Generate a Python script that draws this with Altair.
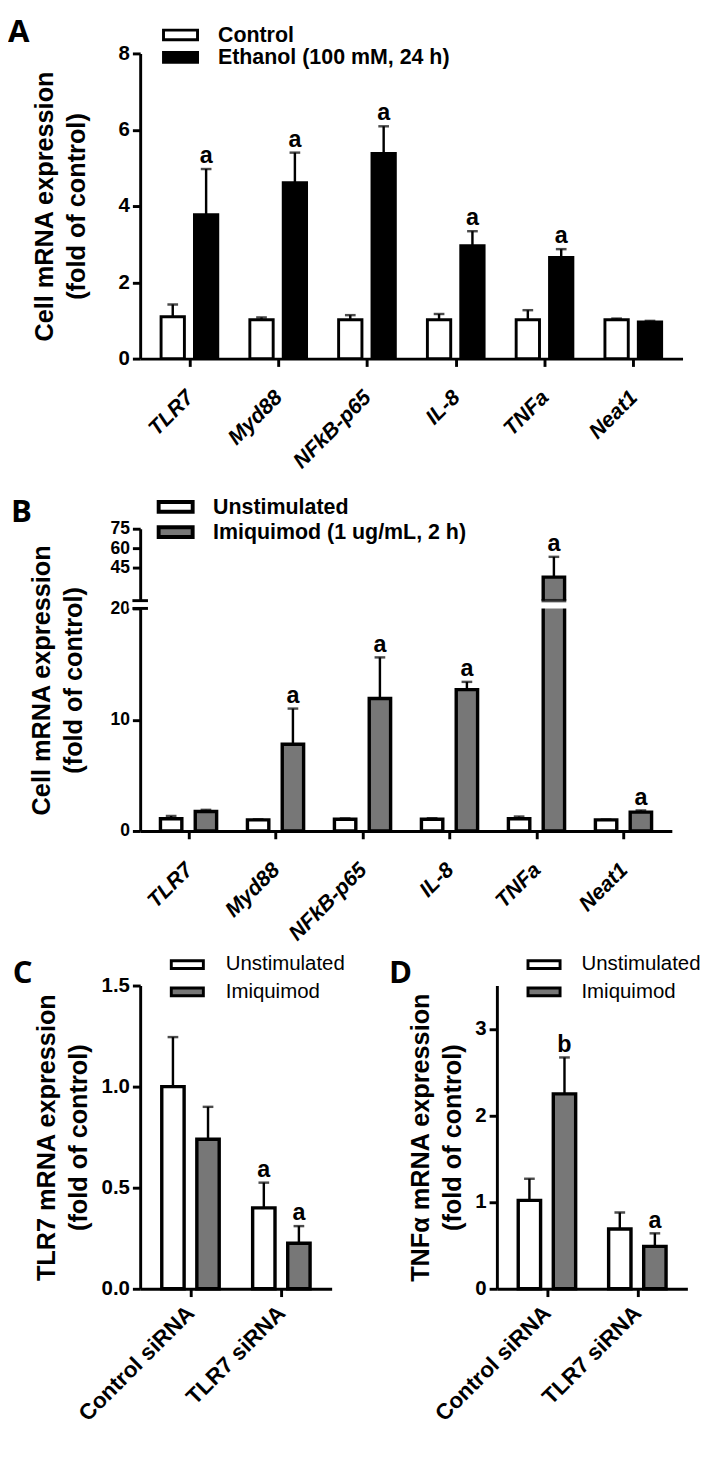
import json
import altair as alt
import pandas as pd

FONT = "Liberation Sans"
BOX = "M-1.75,-0.5H1.75V0.5H-1.75Z"
BOX2 = "M-1.65,-0.4H1.65V0.4H-1.65Z"
GRAY = "#777777"

# ---------------- Panel A ----------------
a_genes = ["TLR7", "Myd88", "NFkB-p65", "IL-8", "TNFa", "Neat1"]
a_groups = ["Control", "Ethanol (100 mM, 24 h)"]
a_control = [1.10, 1.02, 1.02, 1.02, 1.02, 1.02]
a_control_err = [0.32, 0.06, 0.12, 0.15, 0.25, 0.03]
a_control_sig = ["", "", "", "", "", ""]
a_ethanol = [3.77, 4.61, 5.38, 2.96, 2.65, 0.96]
a_ethanol_err = [1.20, 0.79, 0.71, 0.38, 0.22, 0.03]
a_ethanol_sig = ["a", "a", "a", "a", "a", ""]
a_ticks = [0, 2, 4, 6, 8]

# ---------------- Panel B ----------------
b_genes = ["TLR7", "Myd88", "NFkB-p65", "IL-8", "TNFa", "Neat1"]
b_groups = ["Unstimulated", "Imiquimod (1 ug/mL, 2 h)"]
b_unstim = [1.10, 1.00, 1.05, 1.05, 1.10, 1.00]
b_unstim_err = [0.25, 0.05, 0.08, 0.10, 0.20, 0.03]
b_unstim_sig = ["", "", "", "", "", ""]
b_imiq = [1.75, 7.80, 11.90, 12.70, 38.0, 1.70]
b_imiq_err = [0.15, 3.20, 3.70, 0.70, 15.5, 0.15]
b_imiq_sig = ["", "a", "a", "a", "a", "a"]
b_ticks = [0, 10, 20, 45, 60, 75]
b_break = [20, 20.001]

# ---------------- Panels C / D ----------------
cd_cats = ["Control siRNA", "TLR7 siRNA"]
cd_groups = ["Unstimulated", "Imiquimod"]
c_unstim = [1.00, 0.40]
c_unstim_err = [0.245, 0.125]
c_unstim_sig = ["", "a"]
c_imiq = [0.74, 0.225]
c_imiq_err = [0.16, 0.085]
c_imiq_sig = ["", "a"]
c_ticks = [0, 0.5, 1.0, 1.5]

d_unstim = [1.02, 0.69]
d_unstim_err = [0.25, 0.19]
d_unstim_sig = ["", ""]
d_imiq = [2.25, 0.49]
d_imiq_err = [0.42, 0.15]
d_imiq_sig = ["b", "a"]
d_ticks = [0, 1, 2, 3]


def make_df(cats, groups, series):
    rows = []
    for gi, (g, (vals, errs, sigs)) in enumerate(zip(groups, series)):
        for ci, (c, v, e, s) in enumerate(zip(cats, vals, errs, sigs)):
            rows.append({"cat": c, "grp": g, "ci": ci, "gi": gi,
                         "val": v, "top": v + e, "sig": s})
    return pd.DataFrame(rows)


def make_legend(x, y, label_offset, label_size, label_weight, stroke_w, row_pad, path):
    return alt.Legend(
        orient="none", legendX=x, legendY=y, title=None,
        symbolType=path, symbolSize=400, symbolStrokeColor="black",
        symbolStrokeWidth=stroke_w, labelFont=FONT, labelFontSize=label_size,
        labelFontWeight=label_weight, labelColor="black", labelOffset=label_offset,
        rowPadding=row_pad, padding=0, labelLimit=0,
    )


def panel(df, cats, groups, colors, width, height, yscale, yticks, yfmt, ytitle,
          title_x, letter, letter_x, letter_y, legend, stroke_w, bar_w, sep,
          italic, xlabel_size, xlabel_pad, ylabel_size=21, extra=None):
    n = len(cats)
    xaxis = alt.Axis(
        title=None, values=list(range(n)),
        labelExpr=json.dumps(cats) + "[datum.value]",
        labelAngle=-45, labelAlign="right", labelBaseline="middle", labelFlush=False,
        labelFontStyle="italic" if italic else "normal", labelFontSize=xlabel_size,
        labelPadding=xlabel_pad,
    )
    base = alt.Chart(df).transform_calculate(
        xpos=f"datum.ci + (datum.gi - 0.5) * {sep}"
    ).encode(
        x=alt.X("xpos:Q", scale=alt.Scale(domain=[-0.5, n - 0.5], nice=False, zero=False),
                axis=xaxis),
    )
    yaxis = alt.Axis(title=ytitle, values=yticks, format=yfmt, titleX=title_x,
                     titleY=height / 2, labelFontSize=ylabel_size)
    bars = base.mark_bar(stroke="black", strokeWidth=stroke_w, width=bar_w,
                         orient="vertical").encode(
        y=alt.Y("val:Q", scale=yscale, axis=yaxis),
        fill=alt.Fill("grp:N", sort=groups,
                      scale=alt.Scale(domain=groups, range=colors), legend=legend),
    )
    err = base.mark_rule(color="black", strokeWidth=2.5).encode(y="val:Q", y2="top:Q")
    cap = base.mark_tick(color="black", thickness=2.5, size=11,
                         orient="horizontal").encode(y="top:Q")
    sig = base.mark_text(font=FONT, fontSize=24, fontWeight="bold", baseline="bottom",
                         dy=-1, color="black").encode(y="top:Q", text="sig:N")
    lab = alt.Chart(pd.DataFrame({"t": [letter]})).mark_text(
        font="Open Sans", fontSize=32, fontWeight="bold", align="left", baseline="top",
        color="black").encode(text="t:N", x=alt.value(letter_x), y=alt.value(letter_y))
    layers = [bars]
    if extra is not None:
        layers += extra(base)
    layers += [err, cap, sig, lab]
    return alt.layer(*layers).properties(width=width, height=height)


# ---- A ----
df_a = make_df(a_genes, a_groups, [(a_control, a_control_err, a_control_sig),
                                   (a_ethanol, a_ethanol_err, a_ethanol_sig)])
chart_a = panel(
    df_a, a_genes, a_groups, ["white", "black"], 558, 314,
    alt.Scale(domain=[0, 8], nice=False), a_ticks, "d",
    ["Cell mRNA expression", "(fold of control)"], -85, "A", -136, -37,
    make_legend(30, -30.5, 27, 22, "bold", 3, 0, BOX), 3, 24, 0.376, True, 22, 28,
)

# ---- B (broken axis) ----
df_b = make_df(b_genes, b_groups, [(b_unstim, b_unstim_err, b_unstim_sig),
                                   (b_imiq, b_imiq_err, b_imiq_sig)])
B_W, B_H = 547, 311
df_gap = pd.DataFrame({"lo": [b_break[0]], "hi": [b_break[1]]})
df_marks = pd.DataFrame({"y": b_break})


def b_extra(base):
    gap = alt.Chart(df_gap).mark_rect(color="white").encode(
        y="lo:Q", y2="hi:Q", x=alt.value(-12), x2=alt.value(B_W))
    upper_edge = base.transform_filter(alt.datum.val > b_break[1]).transform_calculate(
        edge=str(b_break[1])).mark_tick(color="black", thickness=3.5, size=25.5,
                                        orient="horizontal").encode(y="edge:Q")
    marks = alt.Chart(df_marks).mark_rule(color="black", strokeWidth=3).encode(
        y="y:Q", x=alt.value(-8), x2=alt.value(8))
    return [gap, upper_edge, marks]


chart_b = panel(
    df_b, b_genes, b_groups, ["white", GRAY], B_W, B_H,
    alt.Scale(domain=[0, b_break[0], b_break[1], 75], range=[311, 82, 74, 0],
              nice=False, zero=False),
    b_ticks, "d", ["Cell mRNA expression", "(fold of control)"], -88, "B", -133, -31.5,
    make_legend(24.5, -34.5, 26.5, 22, "bold", 4, 0, BOX), 3.5, 22, 0.40, True, 22, 28,
    ylabel_size=18, extra=b_extra,
)

# ---- C ----
df_c = make_df(cd_cats, cd_groups, [(c_unstim, c_unstim_err, c_unstim_sig),
                                    (c_imiq, c_imiq_err, c_imiq_sig)])
chart_c = panel(
    df_c, cd_cats, cd_groups, ["white", GRAY], 197, 312,
    alt.Scale(domain=[0, 1.5], nice=False), c_ticks, ".1f",
    ["TLR7 mRNA expression", "(fold of control)"], -83, "C", -131, -27.5,
    make_legend(37, -33, 28, 21, "normal", 3, 6, BOX2), 3.5, 23, 0.386, False, 23, 13,
)

# ---- D ----
df_d = make_df(cd_cats, cd_groups, [(d_unstim, d_unstim_err, d_unstim_sig),
                                    (d_imiq, d_imiq_err, d_imiq_sig)])
chart_d = panel(
    df_d, cd_cats, cd_groups, ["white", GRAY], 196, 312,
    alt.Scale(domain=[0, 3.5], nice=False), d_ticks, "d",
    ["TNFα mRNA expression", "(fold of control)"], -65, "D", -111, -27.5,
    make_legend(37, -33, 27, 21, "normal", 3, 6, BOX2), 3.5, 23, 0.388, False, 23, 13,
)

bottom = alt.hconcat(chart_c, chart_d, spacing=170, bounds="flush").resolve_scale(
    fill="independent")
lower = alt.vconcat(chart_b, bottom, spacing=159, bounds="flush").resolve_scale(
    fill="independent")
chart = alt.vconcat(chart_a, lower, spacing=175, bounds="flush").resolve_scale(
    fill="independent"
).properties(
    padding={"top": -12, "left": 0, "right": 0, "bottom": 0}
).configure(font=FONT).configure_view(stroke=None).configure_axis(
    domainColor="black", domainWidth=3, tickColor="black", tickWidth=3, tickSize=8,
    labelColor="black", labelFont=FONT, labelFontWeight="bold", labelFontSize=21,
    labelPadding=3, labelOverlap=False, titleFont=FONT, titleFontWeight="bold",
    titleFontSize=26, titleColor="black", titleLineHeight=33, grid=False,
)

chart.save("out.html", embed_options={"renderer": "svg", "actions": False})
